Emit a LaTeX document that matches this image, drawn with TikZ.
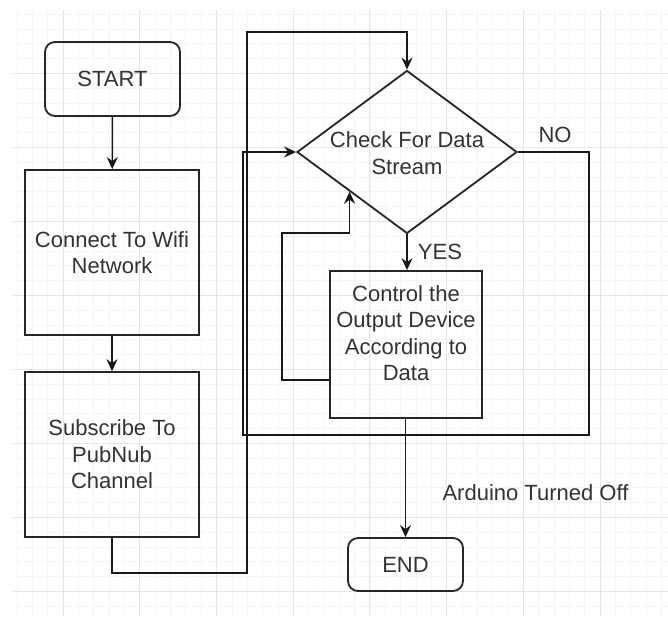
\documentclass[tikz,border=0pt]{standalone}
\usepackage{fontspec}
\setmainfont{Liberation Sans}
\usetikzlibrary{shapes.geometric,arrows.meta,calc}
\begin{document}
\begin{tikzpicture}[x=1pt,y=-1pt,
  txt/.style={font=\fontsize{22}{26.5}\selectfont, text=black!80, align=center},
  box/.style={draw=black!85, line width=1.8pt, inner sep=0pt},
  term/.style={box, rounded corners=10pt},
  proc/.style={box},
  dec/.style={box, shape=diamond},
  arr/.style={draw=black!90, line width=1.5pt, -{Stealth[length=12pt,width=11pt,inset=4pt]}},
  gridminor/.style={draw=black!4, line width=0.5pt},
  gridmajor/.style={draw=black!10, line width=0.8pt}]
\useasboundingbox (0,0) rectangle (668,622);
\fill[white] (0,0) rectangle (668,622);
% background grid
\foreach \i in {0,...,42} { \draw[gridminor] ({17+15.34*\i},10) -- ({17+15.34*\i},616); }
\foreach \j in {0,...,40} { \draw[gridminor] (13,{14+14.8*\j}) -- (668,{14+14.8*\j}); }
\foreach \i in {0,...,7} { \draw[gridmajor] ({63+76.7*\i},10) -- ({63+76.7*\i},616); }
\foreach \j in {0,...,7} { \draw[gridmajor] (13,{73+74*\j}) -- (668,{73+74*\j}); }
% nodes
\node[term, txt, minimum width=135pt, minimum height=74pt] (start) at (112.5,79) {START};
\node[proc, txt, minimum width=174pt, minimum height=165pt] (wifi) at (112,252.5) {Connect To Wifi\\Network};
\node[proc, txt, minimum width=174pt, minimum height=165pt] (sub) at (112,454.5) {Subscribe To\\PubNub\\Channel};
\node[dec, minimum width=220pt, minimum height=163pt] (chk) at (407,152) {};
\node[txt] (chktxt) at (407,153) {Check For Data\\Stream};
\node[proc, minimum width=152pt, minimum height=147pt] (ctl) at (406,344.5) {};
\node[txt] (ctltxt) at (406,333) {Control the\\Output Device\\According to\\Data};
\node[term, txt, minimum width=115pt, minimum height=53pt] (end) at (405.5,564.5) {END};
% labels
\node[txt] (no) at (555,135) {NO};
\node[txt] (yes) at (440,252) {YES};
\node[txt] (off) at (535.5,493) {Arduino Turned Off};
% coordinates
\coordinate (s1) at (247,573);
\coordinate (s2) at (247,32);
\coordinate (n1) at (589,435);
\coordinate (n2) at (243,435);
\coordinate (l1) at (282,380);
\coordinate (l2) at (282,233);
\coordinate (l3) at ($(chk.west)!0.482!(chk.south)$);
% connectors
\draw[arr] (start) -- (wifi);
\draw[arr] (wifi) -- (sub);
\draw[arr] (sub.south) |- (s1) -- (s2) -| (chk.north);
\draw[arr] (chk.east) -| (n1) -- (n2) |- (chk.west);
\draw[arr] (chk.south) -- (chk.south |- ctl.north);
\draw[arr] (ctl.west |- l1) -- (l1) -- (l2) -| (l3);
\draw[arr] (end.north |- ctl.south) -- (end.north);
\end{tikzpicture}
\end{document}
